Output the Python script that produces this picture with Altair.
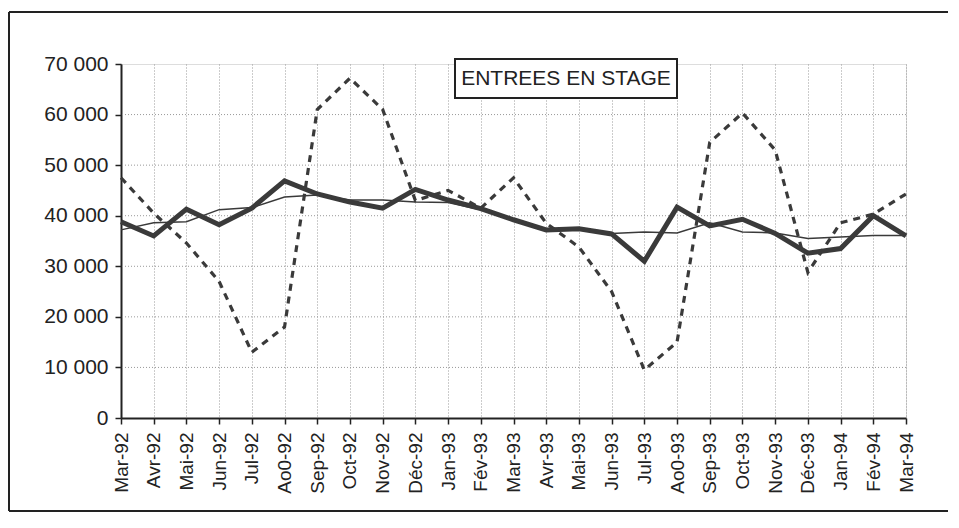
import altair as alt
import pandas as pd

months = ["Mar-92", "Avr-92", "Mai-92", "Jun-92", "Jul-92", "Ao0-92", "Sep-92", "Oct-92",
          "Nov-92", "Déc-92", "Jan-93", "Fév-93", "Mar-93", "Avr-93", "Mai-93", "Jun-93",
          "Jul-93", "Ao0-93", "Sep-93", "Oct-93", "Nov-93", "Déc-93", "Jan-94", "Fév-94", "Mar-94"]

brut = [47500, 40500, 34600, 27000, 13000, 18000, 61000, 67200, 61000, 43000, 45000, 41500,
        47500, 38500, 33800, 25000, 9500, 15000, 54500, 60300, 53000, 28800, 38600, 40300, 44300]

cvs = [38800, 36000, 41300, 38200, 41500, 46900, 44300, 42700, 41500, 45200, 43100, 41400,
       39200, 37200, 37400, 36400, 31000, 41700, 38000, 39300, 36500, 32600, 33500, 40000, 36000]

tendance = [37200, 38600, 38800, 41200, 41600, 43700, 44100, 43100, 43100, 42700, 42600, 41200,
            39300, 37400, 37200, 36500, 36800, 36600, 38600, 36800, 36600, 35500, 35800, 36100, 36100]

grid_values = [10000, 20000, 30000, 40000, 50000, 60000]
y_ticks = [0, 10000, 20000, 30000, 40000, 50000, 60000, 70000]
title_text = "ENTREES EN STAGE"

FONT = "Liberation Sans"
INK = "#3a3a3a"

rows = []
for name, vals in [("brut", brut), ("cvs", cvs), ("tendance", tendance)]:
    for m, v in zip(months, vals):
        rows.append({"mois": m, "serie": name, "valeur": v})
df = pd.DataFrame(rows)

x_enc = alt.X("mois:N", sort=months, scale=alt.Scale(type="point", padding=0),
              axis=alt.Axis(title=None, labelAngle=-90, labelFontSize=19, labelFont=FONT,
                            labelColor="#222", labelPadding=8, tickSize=6, tickWidth=1.5,
                            tickColor="#222", domainColor="#222", domainWidth=2,
                            grid=True, gridDash=[1, 2], gridColor="#999", gridWidth=1))
y_axis = alt.Axis(title=None, values=y_ticks,
                  labelExpr="replace(format(datum.value, ','), ',', ' ')",
                  labelFontSize=21, labelFont=FONT, labelColor="#222", labelPadding=7,
                  tickSize=6, tickWidth=1.5, tickColor="#222",
                  domainColor="#222", domainWidth=2, grid=False)
y_scale = alt.Scale(domain=[0, 70000], nice=False)
y_enc = alt.Y("valeur:Q", scale=y_scale, axis=y_axis)

base = alt.Chart(df)

hgrid = alt.Chart(pd.DataFrame({"valeur": grid_values})).mark_rule(
    strokeDash=[1, 2], color="#999", strokeWidth=1
).encode(y=alt.Y("valeur:Q", scale=y_scale, axis=y_axis))

dashed = base.transform_filter(alt.datum.serie == "brut").mark_line(
    color=INK, strokeWidth=3.2, strokeDash=[7, 6]
).encode(x=x_enc, y=y_enc)

thin = base.transform_filter(alt.datum.serie == "tendance").mark_line(
    color=INK, strokeWidth=1.5
).encode(x=x_enc, y=y_enc)

thick = base.transform_filter(alt.datum.serie == "cvs").mark_line(
    color=INK, strokeWidth=5, strokeJoin="miter"
).encode(x=x_enc, y=y_enc)

one = pd.DataFrame({"a": [0]})
frame_top = alt.Chart(one).mark_rule(color="#222", strokeWidth=2).encode(
    x=alt.value(-112), x2=alt.value(840), y=alt.value(-52)
)
frame_left = alt.Chart(one).mark_rule(color="#222", strokeWidth=2).encode(
    x=alt.value(-112), y=alt.value(-52), y2=alt.value(447)
)
frame_bottom = alt.Chart(one).mark_rule(color="#222", strokeWidth=2).encode(
    x=alt.value(-112), x2=alt.value(840), y=alt.value(447)
)
box = alt.Chart(one).mark_rect(fill="white", stroke="#222", strokeWidth=2).encode(
    x=alt.value(334), x2=alt.value(556), y=alt.value(-5), y2=alt.value(34)
)
label = alt.Chart(pd.DataFrame({"t": [title_text]})).mark_text(
    font=FONT, fontSize=21, color="#222", align="center", baseline="middle"
).encode(x=alt.value(445), y=alt.value(15), text="t:N")

chart = alt.layer(hgrid, dashed, thin, thick, box, label,
                  frame_top, frame_left, frame_bottom).properties(
    width=785, height=354,
    autosize=alt.AutoSizeParams(type="none"),
    padding={"left": 113, "top": 56, "right": 42, "bottom": 95},
).configure_view(stroke=None).configure(background="white")

chart.save("out.html", embed_options={"renderer": "svg", "actions": False})
